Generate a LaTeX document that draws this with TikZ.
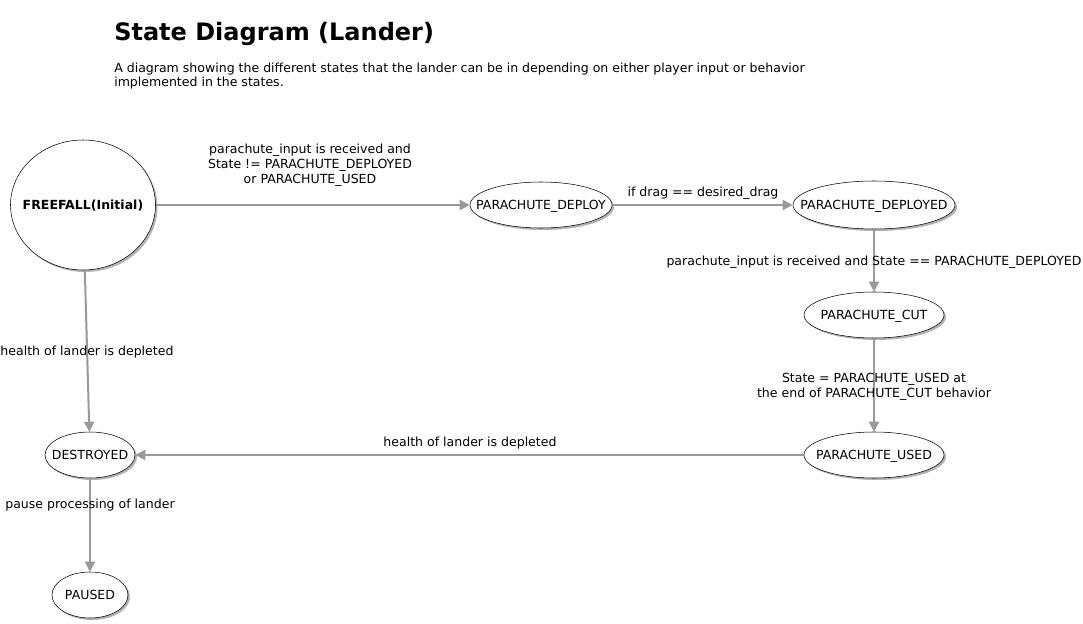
\documentclass[tikz,border=0pt]{standalone}
\usepackage{fontspec}
\setmainfont{DejaVu Sans}
\usetikzlibrary{shapes.geometric, shadows, arrows.meta}
\definecolor{edgegray}{HTML}{999999}

\begin{document}
\begin{tikzpicture}[
        x=0.75pt, y=-0.75pt,
        state/.style={ellipse, draw=black, fill=white, inner sep=-20pt, thin,
            text height=0.73em, text depth=0pt,
            drop shadow={shadow xshift=1.5pt, shadow yshift=-1.5pt, opacity=0.3, fill=black},
            font=\fontsize{9.4}{11}\selectfont},
        trans/.style={-{Triangle[width=7.5pt, length=7.5pt]}, draw=edgegray, fill=edgegray, line width=1.5pt},
        lbl/.style={font=\fontsize{9.4}{11.2}\selectfont, align=center, inner sep=0pt}
    ]
        \useasboundingbox[fill=white] (0,0) rectangle (1083,624);

        % Heading
        \node[anchor=base west, inner sep=0pt, font=\bfseries\fontsize{18}{21}\selectfont] (title) at (114,41) {State Diagram (Lander)};
        \node[anchor=north west, inner sep=0pt, align=left, font=\fontsize{9.4}{10.5}\selectfont] (desc) at (114,63)
            {A diagram showing the different states that the lander can be in depending on either player input or behavior\\implemented in the states.};

        % Nodes
        \node[state, minimum width=108.75pt, minimum height=97.5pt, font=\bfseries\fontsize{9.4}{11}\selectfont] (freefall) at (83,205) {FREEFALL(Initial)};
        \node[state, minimum width=106.5pt, minimum height=34.5pt] (deploy) at (541,205) {PARACHUTE\_DEPLOY};
        \node[state, minimum width=121.5pt, minimum height=36pt] (deployed) at (874,205) {PARACHUTE\_DEPLOYED};
        \node[state, minimum width=105pt, minimum height=34.5pt] (cut) at (874,315) {PARACHUTE\_CUT};
        \node[state, minimum width=105pt, minimum height=34.5pt] (used) at (874,455) {PARACHUTE\_USED};
        \node[state, minimum width=67.5pt, minimum height=34.5pt] (destroyed) at (90,455) {DESTROYED};
        \node[state, minimum width=57pt, minimum height=34.5pt] (paused) at (90,595) {PAUSED};

        % Edges
        \draw[trans] (freefall) -- (deploy);
        \draw[trans] (deploy) -- (deployed);
        \draw[trans] (deployed) -- (cut);
        \draw[trans] (cut) -- (used);
        \draw[trans] (used) -- (destroyed);
        \draw[trans] (freefall) -- (destroyed);
        \draw[trans] (destroyed) -- (paused);

        % Labels
        \node[lbl] (l1) at (310,165) {parachute\_input is received and\\State != PARACHUTE\_DEPLOYED\\or PARACHUTE\_USED};
        \node[lbl] (l2) at (703,193) {if drag == desired\_drag};
        \node[lbl] (l3) at (874,262) {parachute\_input is received and State == PARACHUTE\_DEPLOYED};
        \node[lbl] (l4) at (874,387) {State = PARACHUTE\_USED at\\the end of PARACHUTE\_CUT behavior};
        \node[lbl] (l5) at (470,443) {health of lander is depleted};
        \node[lbl] (l6) at (87,352) {health of lander is depleted};
        \node[lbl] (l7) at (90,505) {pause processing of lander};

    \end{tikzpicture}
\end{document}
